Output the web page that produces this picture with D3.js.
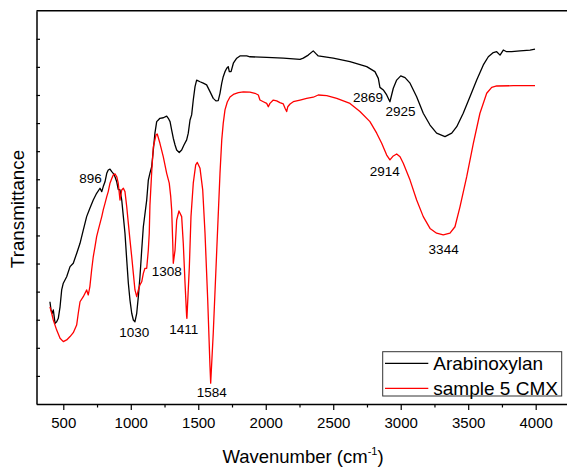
<!DOCTYPE html>
<html><head><meta charset="utf-8">
<script src="https://cdn.jsdelivr.net/npm/d3@7"></script>
<style>
html,body{margin:0;padding:0;background:#fff;}
svg{display:block;font-family:"Liberation Sans",Arial,sans-serif;}
</style></head>
<body>
<script>
// ---- data (wavenumber cm-1, transmittance arb. units) ----
const wnBlack = [401,409,418,426,439,451,463,476,488,500,525,550,574,599,624,648,673,697,722,747,772,785,796,809,822,833,846,859,870,883,896,907,920,933,945,957,970,982,994,1007,1019,1031,1044,1056,1068,1081,1093,1118,1130,1142,1155,1167,1179,1192,1204,1216,1241,1266,1278,1291,1303,1315,1328,1340,1359,1377,1394,1414,1426,1439,1451,1463,1476,1488,1513,1537,1562,1587,1611,1631,1648,1661,1674,1685,1698,1711,1722,1730,1743,1760,1785,1809,1859,1883,2007,2130,2254,2278,2315,2352,2370,2389,2500,2624,2748,2809,2834,2846,2871,2896,2920,2945,2970,3000,3032,3069,3118,3167,3217,3266,3328,3378,3415,3463,3513,3563,3612,3649,3686,3711,3736,3760,3785,3822,3884,3958,3995];
const tBlack = [3.64,3.35,3.23,3.35,2.87,2.93,3.05,3.46,4.06,4.30,4.53,4.89,5.01,5.36,5.72,6.19,6.67,6.97,7.26,7.50,7.68,7.56,7.74,7.91,8.21,8.33,8.36,8.27,8.21,8.09,7.91,7.64,7.62,7.26,6.67,6.08,5.13,4.30,3.70,3.23,2.99,2.93,3.23,3.82,4.53,5.48,6.31,7.26,7.97,8.22,8.45,9.04,9.64,10.05,10.11,10.17,10.19,10.25,10.17,10.05,9.75,9.46,9.22,9.04,8.95,9.04,9.22,9.40,9.64,10.11,10.29,10.82,11.30,11.53,11.47,11.42,11.36,11.12,10.88,10.79,10.80,11.06,11.42,11.65,11.83,11.95,12.01,11.83,11.83,12.13,12.31,12.39,12.39,12.36,12.34,12.31,12.27,12.31,12.42,12.57,12.48,12.39,12.31,12.19,12.01,11.83,11.59,11.27,11.18,11.00,10.76,11.24,11.53,11.68,11.62,11.42,10.94,10.35,9.93,9.64,9.52,9.64,9.87,10.35,10.94,11.53,12.07,12.36,12.51,12.54,12.42,12.60,12.54,12.54,12.57,12.60,12.63];

const wnRed = [401,414,426,451,476,500,525,550,574,599,611,624,648,673,685,697,710,722,735,747,759,772,785,796,809,822,833,846,859,870,883,896,907,920,933,945,957,970,982,994,1007,1019,1031,1044,1056,1068,1081,1093,1105,1118,1130,1137,1142,1155,1167,1187,1196,1216,1241,1266,1285,1296,1303,1311,1315,1328,1340,1357,1377,1389,1402,1414,1416,1434,1446,1463,1481,1493,1513,1533,1550,1570,1587,1592,1611,1637,1661,1674,1685,1698,1715,1735,1760,1797,1834,1883,1920,1945,1957,1982,2007,2019,2031,2056,2081,2105,2130,2143,2155,2163,2180,2204,2254,2303,2352,2389,2452,2526,2624,2698,2772,2822,2859,2896,2920,2945,2970,2995,3019,3069,3118,3167,3217,3266,3315,3365,3402,3439,3489,3538,3587,3637,3674,3711,3834,3995];
const tRed = [3.46,3.23,2.99,2.63,2.34,2.22,2.28,2.40,2.54,2.81,3.23,3.64,3.82,4.06,3.88,4.18,4.77,5.24,5.60,5.96,6.19,6.43,6.67,6.91,7.14,7.38,7.56,7.86,8.03,8.15,8.19,8.09,7.86,7.26,7.62,7.68,7.56,7.02,6.43,5.84,5.24,4.65,4.06,3.82,4.06,4.24,4.35,4.65,4.83,4.83,5.48,6.09,7.08,8.26,9.15,9.58,9.61,9.28,8.80,8.21,7.86,7.38,6.91,5.72,5.01,5.48,6.55,6.87,6.67,5.72,4.30,3.11,3.05,4.89,6.67,7.86,8.51,8.60,8.39,7.62,6.08,3.70,1.33,0.74,2.52,5.48,8.21,9.40,9.99,10.47,10.75,10.93,11.02,11.08,11.11,11.10,11.06,11.00,10.82,10.76,10.70,10.58,10.70,10.82,10.79,10.73,10.68,10.53,10.41,10.58,10.68,10.76,10.82,10.88,10.92,11.00,10.98,10.88,10.70,10.41,10.05,9.64,9.28,8.86,8.69,8.83,8.90,8.80,8.57,7.97,7.26,6.67,6.25,6.08,6.02,6.08,6.31,7.02,8.09,9.28,10.35,11.06,11.27,11.32,11.33,11.33];

const seriesNames = ["Arabinoxylan", "sample 5 CMX"];
const seriesColors = ["#000000", "#ff0000"];

const xTickValues = [500,1000,1500,2000,2500,3000,3500,4000];
const xMinorTicks = [750,1250,1750,2250,2750,3250,3750,4250];
const yTickValues = [1,2,3,4,5,6,7,8,9,10,11,12,13];

const annotLabels = ["896","1030","1308","1411","1584","2869","2925","2914","3344"];
const annotWn = [701,1025,1266,1393,1600,2758,2998,2881,3318];
const annotT  = [7.85,2.40,4.56,2.49,0.25,10.76,10.24,8.13,5.34];

// ---- layout ----
const W = 567, H = 467;
const mLeft = 36.5, mTop = 10.7, mBottom = 404;
const x = d3.scaleLinear().domain([300, 4250]).range([36.3, 36.3 + 3950 * 0.13497]);
const y = d3.scaleLinear().domain([0, 14]).range([mBottom, mTop]);

const svg = d3.select("body").append("svg").attr("width", W).attr("height", H)
  .style("overflow", "hidden");

// curves
const line = d3.line().x(d => x(d[0])).y(d => y(d[1]));
const blackData = wnBlack.map((w, i) => [w, tBlack[i]]);
const redData = wnRed.map((w, i) => [w, tRed[i]]);
svg.append("path").datum(blackData).attr("d", line)
  .attr("fill", "none").attr("stroke", seriesColors[0]).attr("stroke-width", 1.3).attr("stroke-linejoin", "round");
svg.append("path").datum(redData).attr("d", line)
  .attr("fill", "none").attr("stroke", seriesColors[1]).attr("stroke-width", 1.3).attr("stroke-linejoin", "round");

// frame (top)
svg.append("line").attr("x1", mLeft).attr("x2", W + 5).attr("y1", mTop).attr("y2", mTop)
  .attr("stroke", "#000").attr("stroke-width", 1.5);

// x axis
const xAxis = d3.axisBottom(x).tickValues(xTickValues).tickFormat(d3.format("d"))
  .tickSize(6).tickSizeOuter(0).tickPadding(7);
const gx = svg.append("g").attr("transform", `translate(0,${mBottom})`).call(xAxis);
gx.select(".domain").attr("stroke-width", 1.5);
gx.selectAll(".tick line").attr("stroke-width", 1.2);
gx.selectAll(".tick text").attr("font-size", 15).attr("font-family", '"Liberation Sans",Arial,sans-serif').attr("fill", "#000");
const xMinor = d3.axisBottom(x).tickValues(xMinorTicks).tickSize(3.5).tickFormat("");
const gxm = svg.append("g").attr("transform", `translate(0,${mBottom})`).call(xMinor);
gxm.select(".domain").remove();
gxm.selectAll(".tick line").attr("stroke-width", 1.2);

// y axis
const yAxis = d3.axisLeft(y).tickValues(yTickValues).tickSize(-3.5).tickFormat("").tickSizeOuter(0);
const gy = svg.append("g").attr("transform", `translate(${mLeft},0)`).call(yAxis);
gy.select(".domain").attr("stroke-width", 1.5);
gy.selectAll(".tick line").attr("stroke-width", 1.2);

// axis titles
const xt = svg.append("text").attr("x", 303).attr("y", 463).attr("text-anchor", "middle")
  .attr("font-size", 18.5).attr("fill", "#000");
xt.append("tspan").text("Wavenumber (cm");
xt.append("tspan").attr("font-size", 11).attr("dy", -8).text("-1");
xt.append("tspan").attr("dy", 8).text(")");

svg.append("text").attr("transform", "translate(23.5,209) rotate(-90)")
  .attr("text-anchor", "middle").attr("font-size", 18.8).attr("fill", "#000").text("Transmittance");

// peak annotations
svg.append("g").selectAll("text").data(annotLabels).join("text")
  .attr("x", (d, i) => x(annotWn[i])).attr("y", (d, i) => y(annotT[i]))
  .attr("text-anchor", "middle").attr("font-size", 13.5).attr("fill", "#000").text(d => d);

// legend
const lg = svg.append("g");
lg.append("rect").attr("x", 382.7).attr("y", 351.7).attr("width", 179).attr("height", 44.3)
  .attr("fill", "#fff").attr("stroke", "#333").attr("stroke-width", 1);
const lgY = [363.3, 388.3];
seriesNames.forEach((n, i) => {
  lg.append("line").attr("x1", 385).attr("x2", 428.3).attr("y1", lgY[i]).attr("y2", lgY[i])
    .attr("stroke", seriesColors[i]).attr("stroke-width", 1.3);
  lg.append("text").attr("x", 433.3).attr("y", lgY[i] + 6.6).attr("font-size", 19)
    .attr("fill", "#000").text(n);
});
</script>
</body></html>
